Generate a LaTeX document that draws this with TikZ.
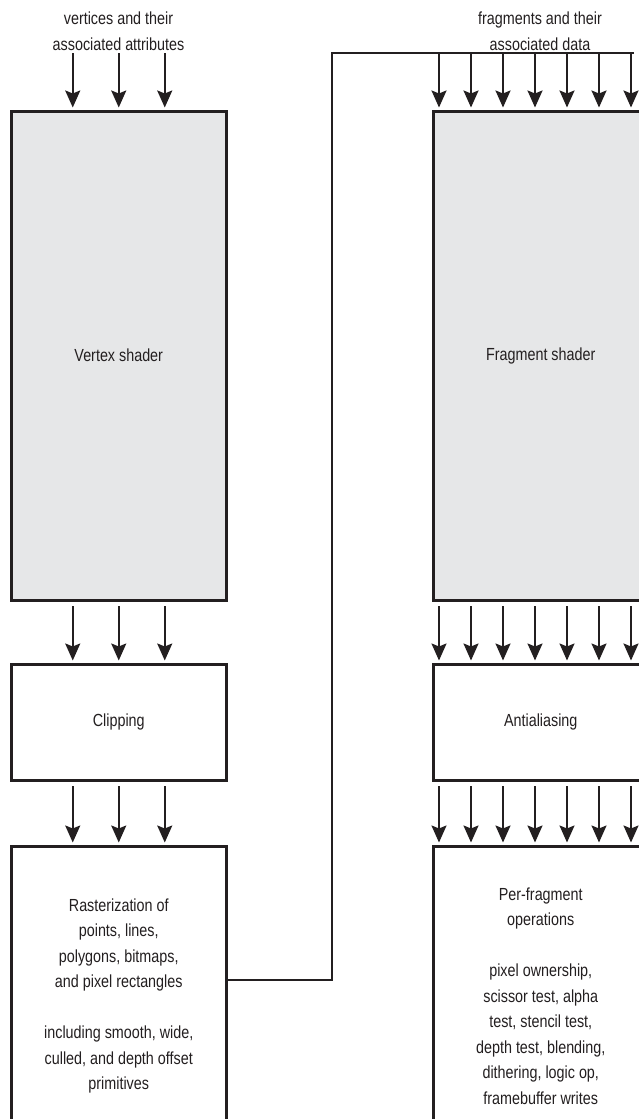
\documentclass[tikz,border=0pt]{standalone}
\usepackage{fontspec}
\setmainfont{Liberation Sans}[FakeStretch=0.82]
\usetikzlibrary{arrows.meta}

\definecolor{inkc}{HTML}{231F20}
\definecolor{shadec}{HTML}{E6E7E8}

\tikzset{
  stage/.style={draw=inkc, line width=3pt, text=inkc, align=center, inner sep=0pt,
    minimum width=214.5pt, anchor=north, font=\fontsize{17.5}{25.5}\selectfont},
  shader/.style={stage, fill=shadec},
  flow/.style={draw=inkc, line width=2pt, shorten <=4.5pt, shorten >=2pt,
    -{Stealth[length=17pt,width=15pt,inset=3pt]}},
  wire/.style={draw=inkc, line width=2.5pt, line join=miter},
  caption/.style={text=inkc, align=center, inner sep=0pt, font=\fontsize{17.5}{26}\selectfont},
}

\begin{document}
\begin{tikzpicture}[x=1pt, y=-1pt]

  %% ════ 画布 ════
  \useasboundingbox[fill=white] (0,0) rectangle (638,1119);

  %% ════ 左列：顶点处理 ════
  \node[shader, minimum height=489pt] (vs) at (118.75,109.5) {Vertex shader};
  \node[stage, minimum height=116pt] (clip) at (118.75,662.5) {Clipping};
  \node[stage, minimum height=300pt] (raster) at (118.75,844.5)
    {Rasterization of\\points, lines,\\polygons, bitmaps,\\and pixel rectangles\\[25.5pt]including smooth, wide,\\culled, and depth offset\\primitives};

  %% ════ 右列：片元处理 ════
  \node[shader, minimum height=489pt] (fs) at (540.75,109.5) {Fragment shader};
  \node[stage, minimum height=116pt] (aa) at (540.75,662.5) {Antialiasing};
  \node[stage, minimum height=300pt] (pf) at (540.75,844.5)
    {Per-fragment\\operations\\[25.5pt]pixel ownership,\\scissor test, alpha\\test, stencil test,\\depth test, blending,\\dithering, logic op,\\framebuffer writes};

  %% ════ 输入说明 ════
  \node[caption] (vtxin) at (118.5,31.5) {vertices and their\\associated attributes};
  \node[caption] (fragin) at (540,31) {fragments and their\\associated data};

  %% ════ 左列箭头 ════
  \foreach \dx in {-46,0,46} {
    \draw[flow, shorten <=0pt] ([xshift=\dx pt, yshift=56.5pt]vs.north) -- ([xshift=\dx pt]vs.north);
    \draw[flow] ([xshift=\dx pt]vs.south) -- ([xshift=\dx pt]clip.north);
    \draw[flow] ([xshift=\dx pt]clip.south) -- ([xshift=\dx pt]raster.north);
  }

  %% ════ 光栅化 → 片元总线 ════
  \coordinate (bus) at (332,53);
  \coordinate (busend) at (634,53);
  \draw[wire] ([yshift=16pt]raster.east) -| (bus) -- (busend);

  %% ════ 右列箭头 ════
  \foreach \i [evaluate=\i as \dx using -101.75+32*\i] in {0,...,6} {
    \draw[flow, shorten <=0pt] ([xshift=\dx pt, yshift=56.5pt]fs.north) -- ([xshift=\dx pt]fs.north);
    \draw[flow] ([xshift=\dx pt]fs.south) -- ([xshift=\dx pt]aa.north);
    \draw[flow] ([xshift=\dx pt]aa.south) -- ([xshift=\dx pt]pf.north);
  }

\end{tikzpicture}
\end{document}
